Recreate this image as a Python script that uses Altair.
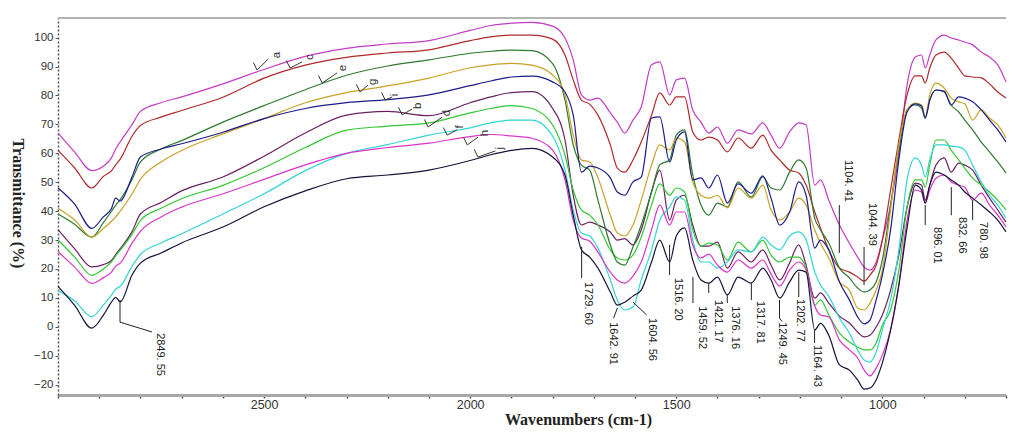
import altair as alt
import pandas as pd

# ---------------- data ----------------
WAVENUMBER = [3000, 2960, 2918, 2890, 2870, 2860, 2849, 2820, 2800, 2750, 2700, 2600, 2500, 2400, 2300,
              2200, 2100, 2000, 1950, 1900, 1850,
              1800, 1770, 1750, 1730, 1710, 1690, 1660, 1643, 1625, 1605, 1585, 1560, 1540, 1516, 1500,
              1480, 1460, 1440, 1421, 1400, 1376, 1350, 1318, 1290, 1270, 1249, 1225, 1203, 1185, 1164,
              1150, 1130, 1104, 1080, 1060, 1044, 1030, 1015, 1000, 980, 960, 940, 920, 905, 896, 885,
              870, 850, 833, 815, 800, 781, 760, 740, 720, 700]

SERIES_A = [67, 60.5, 54, 55.5, 58.5, 61.5, 64, 70, 74.5, 77.5, 79.5, 84, 89, 93.5, 96.3, 97.8, 99, 102.5, 104.2, 105, 105.3,
            104, 99.9, 92.3, 80.2, 78.4, 79.1, 74.0, 70.8, 67.0, 71.5, 76.0, 90.6, 91.6, 80.2, 85.4, 86, 75.0, 70.8, 67.0,
            69.1, 63.5, 68.1, 66.7, 70.5, 66.3, 61.8, 67.4, 70.5, 69.8, 49.0, 50.8, 43.8, 35.2, 28.9, 24.1, 20.6, 19.6,
            22.4, 30.0, 42.1, 59.4, 83.6, 93.3, 94.0, 89.5, 94.0, 99.2, 100.9, 99.9, 99.2, 98.5, 97.5, 95.0, 93.3, 90.6, 84.7]
SERIES_C = [61, 55, 48, 52, 54, 56, 58, 66, 69.6, 72.5, 74.8, 79.4, 86, 90.5, 93.2, 94.7, 95.8, 99, 100.3, 100.9, 100.9,
            99.5, 94.0, 85.4, 78.4, 77.0, 73.2, 62.9, 54.9, 53.5, 57.7, 63.9, 73.2, 80.9, 76.7, 79.5, 79.5, 67.4, 64.6, 65.6,
            64.6, 60.5, 65.3, 61.8, 66.3, 61.1, 57.7, 54.2, 53.2, 49.0, 39.7, 34.2, 26.6, 20.3, 18.9, 17.2, 15.8, 17.9,
            21.3, 30.0, 47.3, 64.6, 80.2, 86.8, 86.8, 84.3, 89.5, 94.0, 95.0, 92.9, 89.5, 86.8, 86.4, 86.1, 84.0, 81.2, 79.1]
SERIES_E = [39, 35.5, 31, 36, 40, 42, 44, 51, 57, 61.5, 64.4, 70.8, 76.5, 82, 87, 90.2, 92.3, 94.6, 95.3, 95.7, 95.5,
            91, 78.4, 62.9, 55.9, 54.2, 43.8, 28.3, 22.4, 21.3, 27.6, 35.2, 46.6, 56, 57.7, 66.3, 68.1, 52.5, 42.1, 38.6,
            42.8, 41.4, 50.1, 44.9, 51.8, 48.0, 47.3, 53.5, 57.7, 54.9, 37.5, 33.5, 29, 20.3, 16.9, 13.4, 12.0, 12.7,
            15.5, 23.1, 42.1, 61.1, 75.0, 76.7, 75.7, 72.2, 78.4, 81.9, 81.2, 76.7, 74.3, 71.5, 68.1, 63.9, 60.5, 57.0, 53.2]
SERIES_G = [41, 37, 31, 34, 36.5, 38, 40, 46, 51, 57, 61, 66.7, 72, 77.5, 81, 83.3, 86, 89.6, 90.6, 91.1, 90.5,
            87.1, 80.2, 66.3, 57.7, 57.0, 51.5, 38.6, 32.4, 31.4, 35.2, 43.8, 55.9, 62.9, 61.1, 65.3, 64, 50.1, 45.5, 44.5,
            45.5, 41.1, 48.0, 44.5, 49.0, 40.4, 36.9, 39.7, 44.5, 42.1, 33.5, 28.9, 23.8, 15.5, 12.7, 6.5, 5.8, 8.2,
            12.7, 19.6, 40.4, 62.9, 75.0, 77.4, 76.7, 72.6, 80.2, 84.3, 82.6, 79.1, 77.8, 77.1, 71.5, 75.0, 72.2, 69.8, 65.3]
SERIES_I = [48, 42.5, 34, 38, 41, 44.5, 43.5, 52, 58.7, 61.5, 63.3, 67.3, 72, 75.5, 77.5, 78.6, 80.2, 83.4, 85, 86.4, 86.7,
            84.7, 81.2, 73.2, 53.5, 55.6, 54.9, 51.5, 46.6, 45.5, 50.1, 51.8, 72.2, 72.6, 57.0, 64.6, 67.4, 50.8, 51.5, 48.0,
            52.5, 42.8, 49.4, 46.2, 52.2, 44.5, 35.2, 39.7, 50.1, 45.5, 27.2, 30.0, 26.6, 15.5, 9.3, 3.4, 1.0, 2.3,
            9.3, 17.9, 33.5, 57.7, 74.3, 77.1, 76.4, 72.2, 78.4, 81.9, 81.5, 76.7, 79.5, 79.1, 77.8, 75.0, 71.5, 68.1, 63.9]
SERIES_B = [33.6, 27, 20.7, 21.5, 23, 25, 27, 33, 39, 43, 47, 51.8, 59, 67, 73.2, 74.5, 73, 77.5, 79.5, 81, 81.3,
            75.5, 64.6, 45.5, 35.2, 36.2, 35.2, 32.8, 30.0, 30.5, 28.3, 33.5, 46.6, 54.2, 36.9, 43.8, 45.5, 35.2, 27.9, 27.9,
            29.3, 20.3, 25.9, 22.4, 26.6, 21.3, 16.2, 22.1, 28.3, 21.3, 9.9, 11.7, 8.2, 3.7, 1.3, -1.8, -3.5, -2.9,
            -0.1, 4.1, 12.7, 24.8, 41.4, 49.7, 49.0, 43.8, 49.0, 55.9, 58.4, 53.5, 56.6, 55.9, 54.2, 49.0, 44.5, 40.4, 36.2]
SERIES_D = [30, 24.2, 17.8, 20, 22.5, 24.5, 26.5, 32, 36.8, 41, 44.3, 48.9, 55, 62, 68, 69.4, 70.5, 74, 75.5, 76.5, 75.5,
            69.8, 59.4, 47.3, 40.4, 38.6, 35.2, 26.6, 23.8, 23.1, 24.8, 31.0, 42.1, 49.4, 45.5, 48.0, 46.6, 33.5, 27.9, 28.9,
            28.3, 23.1, 29.3, 25.9, 30.0, 24.8, 22.4, 24.1, 24.1, 20.3, 7.5, 9.3, 4.1, -2.2, -5.3, -7.0, -8.0, -8.0,
            -5.6, 0.6, 5.8, 19.6, 41.4, 50.8, 50.8, 48.3, 55.9, 64.6, 64.6, 61.1, 57.7, 54.9, 51.4, 49.0, 46.6, 43.8, 40.4]
SERIES_F = [12.5, 9, 3.5, 7.5, 11, 13, 14, 21, 25, 29, 32.2, 39, 46, 54, 60, 63, 66.3, 68.8, 70.5, 71.5, 71.5,
            66, 54.2, 40.4, 32.4, 31.4, 27.2, 16.2, 9.3, 5.8, 6.8, 16.2, 26.6, 36.9, 41.4, 44.9, 43.8, 30.0, 22.4, 22.4,
            20.3, 22.4, 26.6, 25.9, 31.0, 28.3, 26.6, 31.4, 32.8, 30.0, 19.0, 14.4, 10.6, 3.0, -2.2, -8.0, -11.5, -12.2,
            -8.8, -1.1, 9.3, 26.6, 50.8, 58.4, 55.9, 51.8, 57.7, 62.9, 62.9, 62.5, 62.2, 61.1, 55.9, 50.1, 45.5, 42.1, 37.6]
SERIES_H = [26, 20.7, 15, 17, 19, 21, 22, 29, 33, 38, 41.4, 46, 51, 56, 60, 62, 63.5, 65.8, 66.5, 66, 65.2,
            61.1, 50.8, 36.9, 30.7, 29.6, 25.8, 18.9, 16.2, 15.1, 17.5, 22.4, 33.5, 42.1, 35.2, 39.7, 39.7, 28.3, 23.8, 25.1,
            21.3, 18.9, 23.1, 20.3, 23.1, 18.2, 14.1, 19.6, 22.4, 19.6, 7.2, 4.1, 3.4, -4.6, -8.0, -10.8, -15.0, -17.0,
            -14.3, -9.8, -1.1, 14.4, 36.9, 47.3, 46.6, 42.8, 47.3, 51.4, 52.5, 50.1, 49.0, 48.3, 43.8, 46.2, 42.1, 38.6, 34.5]
SERIES_J = [14, 7.5, -0.5, 4, 8.6, 10.2, 8.6, 18, 22, 25.5, 29, 34.5, 41.5, 47, 51.2, 52.5, 54.2, 57.5, 59.5, 61, 61.7,
            58.7, 52.5, 38.6, 26.6, 24.1, 20.3, 12.0, 7.5, 8.5, 10.6, 12.7, 22.4, 30.0, 22.4, 31.4, 34.2, 23.1, 16.2, 15.1,
            17.2, 11.0, 17.2, 15.1, 20.3, 16.2, 9.9, 15.5, 19.6, 18.9, -1.1, 1.2, -2.9, -13.2, -15.0, -18.4, -21.6, -21.2,
            -18.4, -12.5, -1.1, 14.4, 34.2, 49.0, 47.3, 42.8, 49.0, 53.5, 52.5, 50.8, 49.0, 46.6, 44.5, 42.1, 39.7, 36.9, 32.8]

SERIES_NAMES = ["a", "b", "c", "d", "e", "f", "g", "h", "i", "j"]
SERIES_VALUES = [SERIES_A, SERIES_B, SERIES_C, SERIES_D, SERIES_E, SERIES_F, SERIES_G, SERIES_H, SERIES_I, SERIES_J]
SERIES_COLORS = ["#C23CC4", "#6A2262", "#B02A2A", "#34C634", "#2E7A2E", "#36D4D4", "#C9A227", "#D834C8", "#1C1C8A", "#15153A"]

# peak annotations: label and text anchor
PEAK_LABELS = ["2849. 55", "1729. 60", "1642. 91", "1604. 56", "1516. 20", "1459. 52", "1421. 17", "1376. 16",
               "1317. 81", "1249. 45", "1202. 77", "1164. 43", "1104. 41", "1044. 39", "896. 01", "832. 66", "780. 98"]
PEAK_TEXT_X = [2752, 1714, 1653, 1558, 1495, 1437, 1398, 1357, 1298, 1243, 1199, 1158, 1083, 1024, 867, 806, 757]
PEAK_TEXT_Y = [-2.2, 15.5, 1.6, 3.0, 16.9, 7.1, 9.3, 7.1, 8.9, 1.6, 9.6, -6.3, 57.7, 42.8, 34.5, 38.0, 36.2]
# leader segments (x1, y1, x2, y2)
LEADERS = [
    (2849.55, 9.3, 2849.55, 1.6), (2849.55, 1.6, 2772, -1.8),
    (1729.6, 27.6, 1729.6, 16.9),
    (1642.9, 6.5, 1652, 3.0),
    (1604.6, 8.5, 1572, 4.1),
    (1516.2, 28.3, 1516.2, 17.9),
    (1459.5, 17.2, 1459.5, 8.2),
    (1421.2, 15.1, 1421.2, 11.7),
    (1376.2, 11.0, 1376.2, 8.2),
    (1317.8, 15.1, 1317.8, 9.3),
    (1249.5, 9.3, 1249.5, 3.0), (1249.5, 3.0, 1243, 1.8),
    (1202.8, 18.9, 1202.8, 10.3),
    (1164.4, -1.1, 1164.4, -5.6),
    (1104.4, 42.1, 1104.4, 25.5),
    (1044.4, 27.6, 1044.4, 14.4),
    (896.0, 42.1, 896.0, 35.2),
    (832.7, 48.3, 832.7, 38.6),
    (781.0, 43.8, 781.0, 36.9),
]

# curve letters
LETTERS = ["a", "c", "e", "g", "i", "b", "d", "f", "h", "j"]
LETTER_X = [2468, 2388, 2308, 2235, 2182, 2126, 2056, 2024, 1964, 1927]
LETTER_Y = [94.0, 93.3, 89.5, 84.7, 80.2, 76.4, 73.9, 69.1, 67.0, 61.8]
POINTER_FROM_X = [2517, 2437, 2359, 2267, 2206, 2165, 2102, 2056, 2007, 1981]
POINTER_FROM_Y = [88.8, 89.5, 84.3, 81.2, 78.4, 73.3, 69.1, 66.3, 62.9, 58.7]
POINTER_TO_X = [2490, 2408, 2323, 2248, 2189, 2141, 2068, 2032, 1981, 1939]
POINTER_TO_Y = [92.6, 91.6, 87.8, 83.6, 79.5, 75.3, 72.5, 68.1, 65.6, 60.8]

X_TICKS = list(range(700, 3001, 100))
Y_TICKS = list(range(-20, 101, 10))

# ---------------- build tables ----------------
rows = []
for name, vals in zip(SERIES_NAMES, SERIES_VALUES):
    for w, t in zip(WAVENUMBER, vals):
        rows.append({"w": w, "t": t, "s": name})
spectra = pd.DataFrame(rows)

peaks = pd.DataFrame({"label": PEAK_LABELS, "x1": PEAK_TEXT_X, "y1": PEAK_TEXT_Y})
leaders = pd.DataFrame(LEADERS, columns=["x1", "y1", "x2", "y2"])
letters = pd.DataFrame({"label": LETTERS, "x1": LETTER_X, "y1": LETTER_Y})
pointers = pd.DataFrame({"x1": POINTER_FROM_X, "y1": POINTER_FROM_Y, "x2": POINTER_TO_X, "y2": POINTER_TO_Y})
ticks_back = pd.DataFrame({"x1": POINTER_FROM_X, "y1": POINTER_FROM_Y,
                           "x2": [x + 9 for x in POINTER_FROM_X], "y2": [y + 2.6 for y in POINTER_FROM_Y]})

W, H = 948, 377
xs = alt.Scale(domain=[700, 3000], reverse=True, nice=False, zero=False)
ys = alt.Scale(domain=[-23.6, 106.8], nice=False, zero=False)

x_axis = alt.Axis(values=X_TICKS,
                  labelExpr="(datum.value % 500 == 0 && datum.value < 3000) ? format(datum.value, 'd') : ''",
                  grid=False, tickSize=3, tickColor="#555555", tickWidth=1.5,
                  domainColor="#A8A8A8", domainWidth=3,
                  labelFont="Liberation Sans", labelFontSize=12.5, labelColor="#333333", labelPadding=0,
                  titleFont="Liberation Serif", titleFontSize=16, titleFontWeight="bold", titleColor="#222222",
                  titleX=520, titleY=24, titleAlign="center", titleBaseline="middle")
y_axis = alt.Axis(values=Y_TICKS, grid=False, tickSize=3, tickColor="#555555",
                  domainColor="#555555", domainDash=[2, 2], domainWidth=1.5,
                  labelFont="Liberation Sans", labelFontSize=11.5, labelColor="#333333", labelPadding=2,
                  titleFont="Liberation Serif", titleFontSize=16, titleFontWeight="bold", titleColor="#222222",
                  titleAngle=90, titleX=-41, titleY=185, titleAlign="center", titleBaseline="middle")

X_TITLE = "Wavenumbers (cm-1)"
Y_TITLE = "Transmittance (%)"


def xenc(field):
    return alt.X(field, scale=xs, axis=x_axis, title=X_TITLE)


def yenc(field):
    return alt.Y(field, scale=ys, axis=y_axis, title=Y_TITLE)


lines = alt.Chart(spectra).mark_line(strokeWidth=1.2, interpolate="monotone").encode(
    x=xenc("w:Q"),
    y=yenc("t:Q"),
    color=alt.Color("s:N", scale=alt.Scale(domain=SERIES_NAMES, range=SERIES_COLORS), legend=None),
    detail="s:N",
)


def segs(df, color="#222222", width=1.0):
    return alt.Chart(df).mark_rule(color=color, strokeWidth=width).encode(
        x=xenc("x1:Q"), x2="x2:Q", y=yenc("y1:Q"), y2="y2:Q")


peak_rules = segs(leaders)
peak_text = alt.Chart(peaks).mark_text(angle=90, align="left", baseline="middle", font="Liberation Sans",
                                       fontSize=11, color="#222222").encode(
    x=xenc("x1:Q"), y=yenc("y1:Q"), text="label:N")
ptr_rules = segs(pointers, color="#333333", width=1.0)
ptr_back = segs(ticks_back, color="#333333", width=1.0)
letter_text = alt.Chart(letters).mark_text(angle=270, align="center", baseline="middle",
                                           font="Liberation Sans", fontSize=11.5, color="#333333").encode(
    x=xenc("x1:Q"), y=yenc("y1:Q"), text="label:N")

top_border = alt.Chart(pd.DataFrame({"k": [0]})).mark_rule(color="#B4B4B4", strokeWidth=2).encode(
    x=alt.value(0), x2=alt.value(W), y=alt.value(0))

chart = alt.layer(lines, peak_rules, peak_text, ptr_rules, ptr_back, letter_text, top_border).properties(
    width=W, height=H,
    autosize=alt.AutoSizeParams(type="none"),
    padding={"left": 50, "top": 10, "right": 7, "bottom": 40},
).configure_view(stroke=None)

chart.save("out.html", embed_options={"renderer": "svg", "actions": False})
